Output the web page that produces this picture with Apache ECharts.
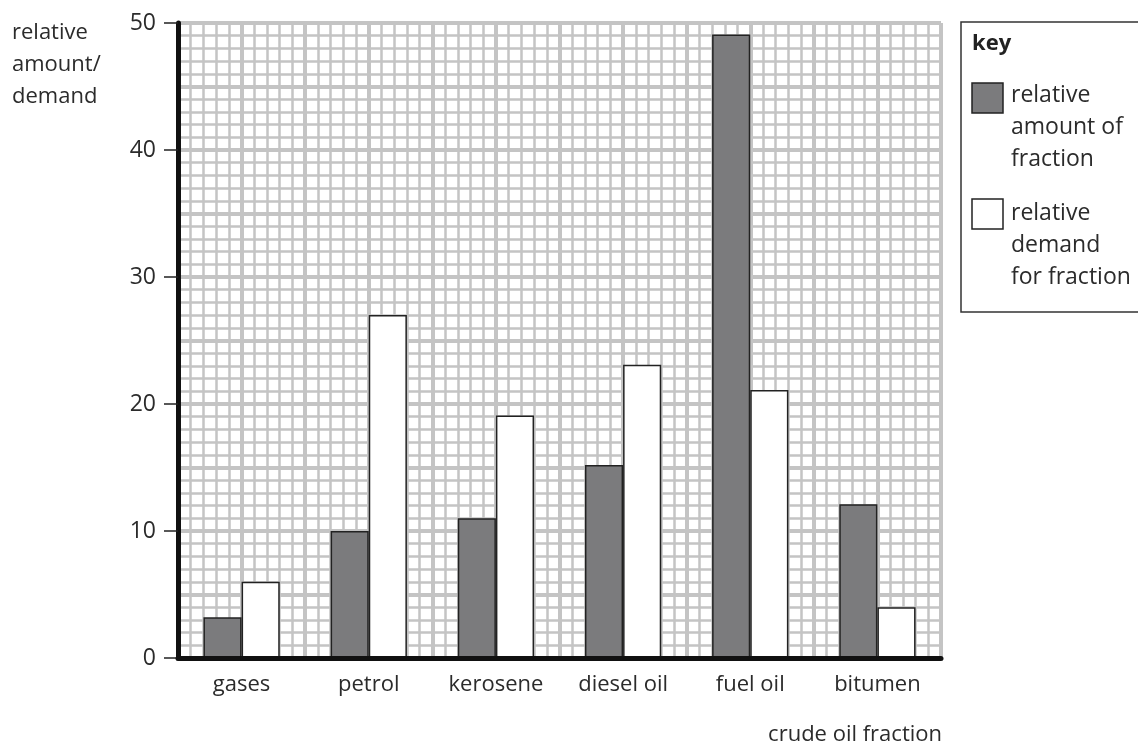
<!DOCTYPE html>
<html>
<head>
<meta charset="utf-8">
<script src="https://cdn.jsdelivr.net/npm/echarts@6/dist/echarts.min.js"></script>
<style>
  html, body { margin: 0; padding: 0; background: #fff; }
  #chart { width: 1138px; height: 749px; }
</style>
</head>
<body>
<div id="chart"></div>
<script>
// data
var fractions = ['gases', 'petrol', 'kerosene', 'diesel oil', 'fuel oil', 'bitumen'];
var amount = [3.2, 10, 11, 15.2, 49.1, 12.1];
var demand = [6, 27, 19.1, 23.1, 21.1, 4];
var yTicks = [0, 10, 20, 30, 40, 50];

var font = '"Open Sans", "Noto Sans", sans-serif';
var gridGray = '#c4c4c4';
var textCol = '#2b2b2b';

var myChart = echarts.init(document.getElementById('chart'));

var option = {
    backgroundColor: '#fff',
    animation: false,
    textStyle: { fontFamily: font },
    grid: { left: 178, right: 197, top: 23, bottom: 91 },
    xAxis: [{
        type: 'category',
        data: fractions,
        axisLine: { show: true, lineStyle: { color: '#111', width: 5 } },
        axisTick: { show: false },
        axisLabel: {
            interval: 0, hideOverlap: false,
            color: textCol, fontSize: 22, margin: 16, fontFamily: font
        },
        splitLine: { show: false },
        z: 5
    }, {
        // hidden value axis for the graph-paper verticals
        type: 'value',
        min: 0,
        max: 60,
        interval: 5,
        position: 'bottom',
        axisLine: { show: false },
        axisTick: { show: false },
        axisLabel: { show: false },
        splitLine: { show: true, lineStyle: { color: gridGray, width: 4 } },
        minorTick: { show: false, splitNumber: 5 },
        minorSplitLine: { show: true, lineStyle: { color: gridGray, width: 2.5 } }
    }],
    yAxis: [{
        type: 'value',
        min: 0,
        max: 50,
        interval: 10,
        axisLine: { show: true, lineStyle: { color: '#111', width: 5 } },
        axisTick: { show: true, length: 14, lineStyle: { color: '#222', width: 1.5 } },
        axisLabel: {
            color: textCol, fontSize: 23, margin: 22, fontFamily: font,
            formatter: function (v) { return yTicks.indexOf(v) >= 0 ? v : ''; }
        },
        splitLine: { show: true, lineStyle: { color: gridGray, width: 4 } },
        minorTick: { show: false, splitNumber: 10 },
        minorSplitLine: { show: true, lineStyle: { color: gridGray, width: 2.5 } }
    }, {
        // thicker lines every 5 units
        type: 'value',
        min: 0,
        max: 50,
        interval: 5,
        position: 'right',
        axisLine: { show: false },
        axisTick: { show: false },
        axisLabel: { show: false },
        splitLine: { show: true, lineStyle: { color: gridGray, width: 4 } }
    }],
    series: [{
        name: 'relative amount of fraction',
        type: 'bar',
        data: amount,
        barGap: 0,
        barCategoryGap: '40%',
        itemStyle: { color: '#7b7b7d', borderColor: '#222', borderWidth: 1.5 },
        z: 3
    }, {
        name: 'relative demand for fraction',
        type: 'bar',
        data: demand,
        barGap: 0,
        barCategoryGap: '40%',
        itemStyle: { color: '#fff', borderColor: '#222', borderWidth: 1.5 },
        z: 3
    }],
    graphic: [
        {
            type: 'text', x: 12, y: 17,
            style: {
                text: 'relative\namount/\ndemand', fill: textCol,
                font: '22px ' + font, lineHeight: 32
            }
        },
        {
            type: 'text', right: 196, top: 724,
            style: { text: 'crude oil fraction', fill: textCol, font: '22px ' + font }
        },
        // key box
        {
            type: 'rect', shape: { x: 961, y: 22, width: 190, height: 290 },
            style: { fill: '#fff', stroke: '#333', lineWidth: 1.5 }
        },
        {
            type: 'text', x: 972, y: 33,
            style: { text: 'key', fill: '#222', font: 'bold 22px ' + font }
        },
        {
            type: 'rect', shape: { x: 972, y: 83, width: 31, height: 30 },
            style: { fill: '#7b7b7d', stroke: '#222', lineWidth: 1.5 }
        },
        {
            type: 'text', x: 1011, y: 79,
            style: {
                text: 'relative\namount of\nfraction', fill: textCol,
                font: '23px ' + font, lineHeight: 32
            }
        },
        {
            type: 'rect', shape: { x: 972, y: 199, width: 31, height: 30 },
            style: { fill: '#fff', stroke: '#222', lineWidth: 1.5 }
        },
        {
            type: 'text', x: 1011, y: 197,
            style: {
                text: 'relative\ndemand\nfor fraction', fill: textCol,
                font: '23px ' + font, lineHeight: 32
            }
        }
    ]
};

myChart.setOption(option);
window.addEventListener('resize', function () { myChart.resize(); });
</script>
</body>
</html>
